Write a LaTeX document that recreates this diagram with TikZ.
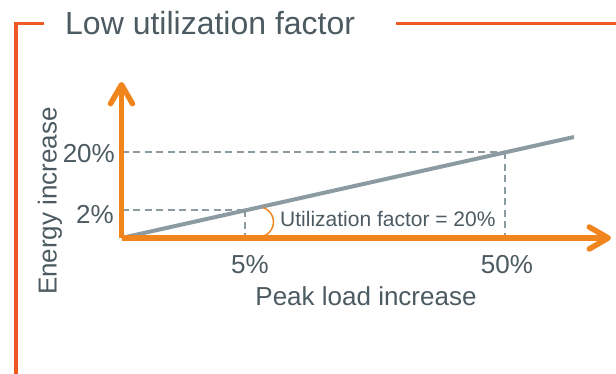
\documentclass[tikz,border=0pt]{standalone}
\usepackage{fontspec}
\setmainfont{Liberation Sans}
\usetikzlibrary{arrows.meta,calc,positioning}

\definecolor{framered}{HTML}{EF5A24}
\definecolor{axisorange}{HTML}{F0851D}
\definecolor{lineblue}{HTML}{8C9AA2}
\definecolor{textgray}{HTML}{4C5A62}

\tikzset{
  frameline/.style={draw=framered,line width=3.5pt,line join=miter},
  axisline/.style={draw=axisorange,line width=5.5pt,
    -{Straight Barb[length=19pt,width=22pt,line cap=round,line join=round]}},
  curveline/.style={draw=lineblue,line width=4pt},
  guideline/.style={draw=lineblue,line width=2pt,dash pattern=on 7pt off 4.5pt},
  lbl/.style={text=textgray,font=\fontsize{26}{30}\selectfont,inner sep=0pt},
  smalllbl/.style={text=textgray,font=\fontsize{21}{25}\selectfont,inner sep=0pt}
}

\begin{document}
\begin{tikzpicture}[x=1pt,y=1pt]
\useasboundingbox (0,0) rectangle (616,373);

%frame and title
\draw[frameline] (44,349.7)--(16,349.7)--(16,-5);
\draw[frameline] (396,349.7)--(620,349.7);
\node[text=textgray,font=\fontsize{32}{38}\selectfont,inner sep=0pt,
  anchor=base west] (title) at (65,338) {Low utilization factor};

%axes
\coordinate (O) at (121.5,135);
\coordinate (ytip) at (121.5,291);
\coordinate (xtip) at (611,135);
\coordinate (lend) at (574,236);
\coordinate (p5) at ($(O)!0.2729!(lend)$);
\coordinate (p50) at ($(O)!0.8486!(lend)$);

% guide lines
\draw[guideline] (O |- p5)--(p5);
\draw[guideline] (p5)--(p5 |- O);
\draw[guideline] (O |- p50)--(p50);
\draw[guideline] (p50)--(p50 |- O);

\draw[curveline] (O)--(lend);
\draw[axisline] (O)--(xtip);
\draw[axisline] (O)--(ytip);

% angle mark
\draw[axisorange,line width=1.5pt] (263.1,165.3) arc (72:-72:15);
\node[smalllbl,anchor=base west] (uf) at (280,146.3) {Utilization factor = 20\%};

%tick labels
\node[lbl,anchor=base east] (y20) at (115,211) {20\%};
\node[lbl,anchor=base east] (y2) at (114,150) {2\%};
\node[lbl,anchor=base] (x5) at (250,100) {5\%};
\node[lbl,anchor=base] (x50) at (507,100) {50\%};

%axis titles
\node[lbl,anchor=base] (xlab) at (366,67.7) {Peak load increase};
\node[lbl,anchor=base,rotate=90] (ylab) at (56.7,172) {Energy increase};

\end{tikzpicture}
\end{document}
